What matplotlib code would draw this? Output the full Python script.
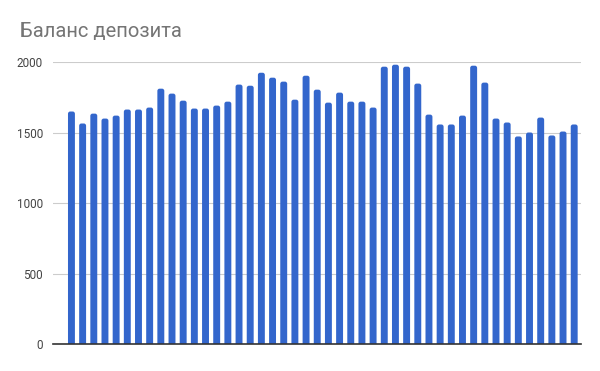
import matplotlib.pyplot as plt
from matplotlib.patches import FancyBboxPatch

# deposit balance by period
balance = [1649, 1564, 1634, 1599, 1620, 1663, 1663, 1677, 1811, 1776,
           1726, 1670, 1670, 1691, 1719, 1840, 1832, 1924, 1889, 1861,
           1733, 1903, 1804, 1712, 1783, 1719, 1719, 1677, 1967, 1981,
           1967, 1847, 1627, 1557, 1557, 1620, 1974, 1854, 1599, 1571,
           1472, 1500, 1606, 1479, 1507, 1557]
y_ticks = [0, 500, 1000, 1500, 2000]
title = 'Баланс депозита'

plt.rcParams['font.family'] = ['Roboto', 'DejaVu Sans']

fig = plt.figure(figsize=(6, 3.71), dpi=100)
ax = fig.add_axes([0.0878, 0.0728, 0.880, 0.760])

ax.set_ylim(0, 2000)
ax.set_xlim(-1.68, len(balance) - 1 + 0.58)

# bars with slightly rounded tops, bottoms hidden below the baseline
w = 0.62
for i, v in enumerate(balance):
    box = FancyBboxPatch((i - w / 2, -40), w, v + 40,
                         boxstyle='round,pad=0,rounding_size=0.2',
                         mutation_aspect=79, facecolor='#3366cc',
                         edgecolor='none', zorder=2)
    ax.add_patch(box)

ax.set_yticks(y_ticks)
ax.set_yticklabels([str(v) for v in y_ticks], fontsize=8.5, color='#444444')
ax.set_xticks([])
ax.tick_params(axis='y', length=0, pad=7)
ax.grid(axis='y', color='#cccccc', linewidth=0.8, zorder=0)
for side in ['top', 'right', 'left']:
    ax.spines[side].set_visible(False)
ax.spines['bottom'].set_color('#333333')
ax.spines['bottom'].set_linewidth(1.2)
ax.spines['bottom'].set_zorder(3)

fig.text(0.033, 0.915, title, fontsize=14.5, color='#757575', va='center')

plt.savefig('out.png')
